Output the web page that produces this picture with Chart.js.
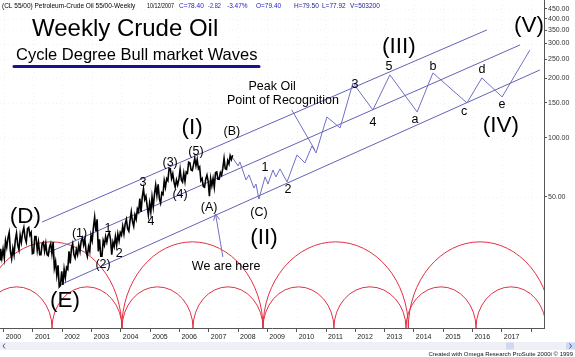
<!DOCTYPE html>
<html><head><meta charset="utf-8">
<script src="https://cdn.jsdelivr.net/npm/chart.js@4.4.0/dist/chart.umd.min.js"></script>
<style>html,body{margin:0;padding:0;background:#fff}#wrap{width:575px;height:357px;position:relative}</style>
</head><body><div id="wrap"><canvas id="c" width="575" height="357"></canvas></div>
<script>
const FONT = '"Liberation Sans", Arial, sans-serif';

// ---- Monthly price ranges (first month Nov 1999, last Oct 2007) ----
const firstMonth = '1999-11';
const priceLow = [
  24.0, 24.5,
  24.5, 27.8, 26.5, 24.3, 25.4, 28.5, 27.0, 29.5, 31.0, 29.5, 32.0, 25.8,
  26.0, 26.8, 25.5, 25.5, 26.5, 25.5, 25.2, 25.8, 21.8, 20.0, 17.5, 17.8,
  17.9, 19.5, 21.5, 23.0, 25.5, 24.5, 25.5, 26.5, 28.5, 26.5, 25.0, 26.5,
  30.0, 33.5, 26.5, 25.0, 25.0, 28.5, 29.5, 30.5, 25.5, 28.0, 28.5, 30.0,
  32.0, 32.5, 34.5, 33.5, 37.5, 35.5, 38.5, 42.0, 42.0, 48.5, 45.0, 40.5,
  42.0, 44.5, 51.0, 49.0, 46.5, 51.5, 56.0, 60.5, 62.0, 59.5, 56.0, 57.5,
  61.0, 59.5, 60.0, 66.0, 68.5, 68.0, 72.0, 69.5, 60.5, 56.5, 56.0, 60.0,
  50.5, 57.0, 56.0, 61.5, 61.5, 64.5, 69.5, 69.0, 73.5, 77.5
];
const priceHigh = [
  27.3, 27.2,
  30.0, 31.0, 33.0, 27.5, 30.2, 32.8, 32.0, 33.0, 35.0, 34.5, 35.0, 33.0,
  31.5, 31.5, 29.5, 29.0, 29.5, 29.0, 27.8, 29.0, 29.5, 23.5, 22.5, 21.0,
  21.5, 22.0, 26.5, 27.5, 29.0, 27.0, 28.5, 30.0, 31.0, 30.5, 28.0, 32.0,
  35.0, 39.5, 38.5, 30.5, 30.0, 31.5, 32.0, 33.0, 29.5, 31.5, 32.5, 33.0,
  35.5, 36.5, 38.5, 38.0, 42.0, 40.5, 43.5, 49.0, 50.0, 55.0, 50.5, 46.5,
  50.0, 51.5, 57.5, 58.0, 52.5, 60.5, 62.0, 70.0, 69.5, 65.5, 61.0, 61.5,
  69.0, 66.0, 67.0, 75.0, 74.5, 73.0, 78.5, 77.5, 71.0, 62.0, 61.5, 64.5,
  62.0, 62.0, 66.5, 67.0, 66.5, 70.0, 78.5, 76.5, 81.0, 81.5
];

// ---- Elliott projection path ----
const waveYears  = [2007.79, 2008.00, 2008.06, 2008.27, 2008.37, 2008.54, 2008.61, 2008.71, 2008.92, 2009.02, 2009.19, 2009.29, 2009.43, 2009.67, 2010.01, 2010.28, 2010.52, 2010.66, 2011.03, 2011.48, 2011.92, 2012.60, 2013.18, 2014.11, 2014.65, 2015.81, 2016.32, 2017.01, 2017.96];
const wavePrices = [80.0, 71.8, 75.3, 61.0, 64.7, 55.5, 58.2, 48.8, 63.2, 58.2, 68.5, 63.2, 69.4, 59.6, 81.7, 74.4, 90.7, 83.6, 127.3, 112.0, 189.4, 138.2, 208.0, 135.0, 212.9, 150.0, 200.8, 160.8, 278.5];

// ---- Channel lines ----
const channelUpperYears = [2001.31, 2016.49], channelUpperPrices = [37.3, 351.8];
const channelMidYears   = [2001.47, 2017.62], channelMidPrices   = [25.9, 295.2];
const channelLowerYears = [2001.92, 2018.30], channelLowerPrices = [17.9, 220.4];

// ---- Pointers ----
const recogPointerYears = [2009.83, 2010.62], recogPointerPrices = [138.2, 86.6];
const hereArrowYears = [2007.48, 2007.23], hereArrowPrices = [24.8, 41.0];

// ---- Cycle arcs (cycle lows in years, arc crest price) ----
const smallCycleLows = [1999.24, 2001.65, 2004.04, 2006.46, 2008.85, 2011.27, 2013.73, 2016.12, 2018.51];
const smallCycleCrest = 17.5;
const largeCycleLows = [1999.18, 2004.03, 2008.85, 2013.81, 2018.70];
const largeCycleCrest = 29.6;

// ---- Axes ----
const xTickYears = [2000,2001,2002,2003,2004,2005,2006,2007,2008,2009,2010,2011,2012,2013,2014,2015,2016,2017,2018];
const lastLabelledYear = 2017;
const yTickValues = [50,100,150,200,250,300,350,400,450];
const xMin = 1999.874, xMax = 2018.44, yMin = 10.82, yMax = 499;

// ---- Wave labels: text, year, price, size ----
const waveLabels = [
  ['(D)', 2000.74, 39.6, 22.5], ['(E)', 2002.09, 14.8, 22.5],
  ['(1)', 2002.59, 32.5, 12.5], ['1', 2003.56, 34.4, 12.5],
  ['(2)', 2003.39, 22.6, 12.5], ['2', 2003.94, 25.7, 12.5],
  ['3', 2004.75, 58.9, 12.5], ['4', 2005.03, 37.3, 12.5],
  ['(3)', 2005.68, 74.4, 12.5], ['(4)', 2006.02, 51.2, 12.5],
  ['(5)', 2006.56, 84.6, 12.5], ['(I)', 2006.43, 112.0, 22.5],
  ['(B)', 2007.79, 106.8, 12.5], ['(A)', 2007.01, 44.0, 12.5],
  ['(C)', 2008.71, 41.5, 12.5], ['1', 2008.92, 70.2, 12.5],
  ['2', 2009.70, 54.3, 12.5], ['(II)', 2008.88, 31.0, 22.5],
  ['We are here', 2007.59, 22.3, 12.5],
  ['Peak Oil', 2009.16, 180.7, 12.5], ['Point of Recognition', 2009.53, 153.5, 12.5],
  ['3', 2011.99, 185.0, 12.5], ['4', 2012.60, 118.7, 12.5],
  ['5', 2013.15, 228.3, 12.5], ['(III)', 2013.49, 288.4, 22.5],
  ['a', 2014.04, 122.9, 12.5], ['b', 2014.65, 228.3, 12.5],
  ['c', 2015.71, 135.0, 12.5], ['d', 2016.32, 220.4, 12.5],
  ['e', 2017.01, 146.5, 12.5], ['(IV)', 2016.97, 114.6, 22.5],
  ['(V)', 2017.93, 368.6, 22.5]
];

// ---- header texts: text, x, colour, max width ----
const headerParts = [
  ['(CL 55/00) Petroleum-Crude Oil 55/00-Weekly', 2, '#000', 141],
  ['10/12/2007', 147, '#000', 27],
  ['C=78.40', 179, '#1a1acc', 25],
  ['-2.82', 208, '#1a1acc', 13],
  ['-3.47%', 227, '#1a1acc', 23],
  ['O=79.40', 256, '#1a1acc', 30],
  ['H=79.50', 294, '#1a1a99', 0],
  ['L=77.92', 322, '#1a1a99', 0],
  ['V=503200', 350, '#1a1a99', 0]
];

// price path: each month drawn low->high or high->low following the trend
const [fy, fm] = firstMonth.split('-').map(Number);
const pricePath = [];
priceLow.forEach((lo, i) => {
  const c = fy + (fm - 1 + i + 0.5) / 12;
  const mid = (lo + priceHigh[i]) / 2;
  const nextMid = i + 1 < priceLow.length ? (priceLow[i + 1] + priceHigh[i + 1]) / 2 : mid + 1;
  const up = nextMid >= mid;
  pricePath.push({x: c - 1 / 48, y: up ? lo : priceHigh[i]});
  pricePath.push({x: c + 1 / 48, y: up ? priceHigh[i] : lo});
});

const chanColor = 'rgb(98,98,182)';
const zigColor = 'rgb(112,112,196)';
const arcColor = 'rgb(226,48,68)';
const pts = (xs, ys) => xs.map((v, i) => ({x: v, y: ys[i]}));
const lineDs = (xs, ys, color, w) => ({type: 'line', data: pts(xs, ys), borderColor: color, borderWidth: w, pointRadius: 0, tension: 0, fill: false});

const overlay = {
  id: 'overlay',
  beforeDatasetsDraw(chart) {
    const {ctx, chartArea: a, scales: {x, y}} = chart;
    ctx.save();
    ctx.beginPath(); ctx.rect(a.left, a.top, a.right - a.left, a.bottom - a.top); ctx.clip();
    ctx.strokeStyle = 'rgba(0,0,0,0.06)'; ctx.lineWidth = 1; ctx.setLineDash([1, 3]);
    xTickYears.forEach(v => { const px = Math.round(x.getPixelForValue(v)) + 0.5; ctx.beginPath(); ctx.moveTo(px, a.top); ctx.lineTo(px, a.bottom); ctx.stroke(); });
    yTickValues.forEach(v => { const py = Math.round(y.getPixelForValue(v)) + 0.5; ctx.beginPath(); ctx.moveTo(a.left, py); ctx.lineTo(a.right, py); ctx.stroke(); });
    ctx.setLineDash([]);
    const base = y.getPixelForValue(yMin);
    ctx.strokeStyle = arcColor; ctx.lineWidth = 1;
    const arcs = (lows, crest) => {
      const top = y.getPixelForValue(crest);
      for (let i = 0; i < lows.length - 1; i++) {
        const x0 = x.getPixelForValue(lows[i]), x1 = x.getPixelForValue(lows[i + 1]);
        ctx.beginPath();
        ctx.ellipse((x0 + x1) / 2, base, (x1 - x0) / 2, base - top, 0, Math.PI, 2 * Math.PI);
        ctx.stroke();
      }
    };
    arcs(largeCycleLows, largeCycleCrest);
    arcs(smallCycleLows, smallCycleCrest);
    ctx.restore();
  },
  afterDatasetsDraw(chart) {
    const {ctx, scales: {x, y}} = chart;
    ctx.save();
    const n = hereArrowYears.length;
    const tx = x.getPixelForValue(hereArrowYears[n - 1]), ty = y.getPixelForValue(hereArrowPrices[n - 1]);
    const sx = x.getPixelForValue(hereArrowYears[0]), sy = y.getPixelForValue(hereArrowPrices[0]);
    const ang = Math.atan2(ty - sy, tx - sx);
    ctx.strokeStyle = zigColor; ctx.lineWidth = 1;
    ctx.beginPath();
    ctx.moveTo(tx - 7 * Math.cos(ang - 0.45), ty - 7 * Math.sin(ang - 0.45));
    ctx.lineTo(tx, ty);
    ctx.lineTo(tx - 7 * Math.cos(ang + 0.45), ty - 7 * Math.sin(ang + 0.45));
    ctx.stroke();
    ctx.fillStyle = '#000'; ctx.textAlign = 'center'; ctx.textBaseline = 'middle';
    waveLabels.forEach(([t, yr, pr, sz]) => {
      ctx.font = sz + 'px ' + FONT;
      ctx.fillText(t, x.getPixelForValue(yr), y.getPixelForValue(pr));
    });
    ctx.restore();
  },
  afterDraw(chart) {
    const {ctx} = chart;
    ctx.save();
    ctx.fillStyle = '#000'; ctx.textAlign = 'left'; ctx.textBaseline = 'alphabetic';
    ctx.font = '24px ' + FONT; ctx.fillText('Weekly Crude Oil', 32, 36);
    ctx.font = '16.5px ' + FONT; ctx.fillText('Cycle Degree Bull market Waves', 16, 60);
    ctx.strokeStyle = 'rgb(20,20,140)'; ctx.lineWidth = 3; ctx.lineCap = 'round';
    ctx.beginPath(); ctx.moveTo(14, 66.5); ctx.lineTo(259, 66.5); ctx.stroke();
    ctx.font = '6.5px ' + FONT;
    headerParts.forEach(([t, px, col, mw]) => { ctx.fillStyle = col; if (mw) ctx.fillText(t, px, 8, mw); else ctx.fillText(t, px, 8); });
    ctx.fillStyle = '#eef0f5'; ctx.fillRect(0, 342, 575, 8);
    ctx.fillStyle = '#cfdaf0'; ctx.fillRect(506, 342.5, 8, 7); ctx.fillRect(566, 342.5, 9, 7);
    ctx.strokeStyle = '#3355cc'; ctx.lineWidth = 1; ctx.lineCap = 'butt';
    ctx.beginPath(); ctx.moveTo(5, 343.5); ctx.lineTo(3, 346); ctx.lineTo(5, 348.5); ctx.stroke();
    ctx.beginPath(); ctx.moveTo(569.5, 343.5); ctx.lineTo(571.5, 346); ctx.lineTo(569.5, 348.5); ctx.stroke();
    ctx.fillStyle = '#111'; ctx.textAlign = 'right'; ctx.font = '6px ' + FONT;
    ctx.fillText('Created with Omega Research ProSuite 2000i \u00a9 1999', 573, 356);
    ctx.restore();
  }
};

new Chart(document.getElementById('c'), {
  type: 'line',
  data: {
    datasets: [
      {type: 'line', data: pricePath, borderColor: '#000', borderWidth: 1.6, pointRadius: 0, tension: 0, fill: false},
      lineDs(waveYears, wavePrices, zigColor, 1),
      lineDs(channelUpperYears, channelUpperPrices, chanColor, 1),
      lineDs(channelMidYears, channelMidPrices, chanColor, 1),
      lineDs(channelLowerYears, channelLowerPrices, chanColor, 1),
      lineDs(recogPointerYears, recogPointerPrices, zigColor, 1),
      lineDs(hereArrowYears, hereArrowPrices, zigColor, 1)
    ]
  },
  options: {
    responsive: false, animation: false, devicePixelRatio: 1,
    layout: {padding: 0},
    plugins: {legend: {display: false}, tooltip: {enabled: false}, title: {display: false}},
    scales: {
      x: {
        type: 'linear', position: 'bottom', min: xMin, max: xMax, offset: false,
        afterBuildTicks: s => { s.ticks = xTickYears.map(v => ({value: v})); },
        afterFit: s => { s.height = 29; s.paddingLeft = 0; s.paddingRight = 0; },
        ticks: {autoSkip: false, maxRotation: 0, minRotation: 0, align: 'start', padding: 1, color: '#222',
          font: {size: 7, family: FONT}, callback: v => (v <= lastLabelledYear ? ' ' + v : '')},
        grid: {drawOnChartArea: false, drawTicks: true, tickLength: 4, tickColor: '#555', offset: false},
        border: {display: true, color: '#555'}
      },
      y: {
        type: 'logarithmic', position: 'right', min: yMin, max: yMax,
        afterBuildTicks: s => { s.ticks = yTickValues.map(v => ({value: v})); },
        afterFit: s => { s.width = 31; s.paddingTop = 0; s.paddingBottom = 0; },
        ticks: {autoSkip: false, padding: 1, color: '#333', font: {size: 7, family: FONT}, callback: v => Number(v).toFixed(2)},
        grid: {drawOnChartArea: false, drawTicks: true, tickLength: 3, tickColor: '#555'},
        border: {display: true, color: '#555'}
      }
    }
  },
  plugins: [overlay]
});
</script>
</body></html>
